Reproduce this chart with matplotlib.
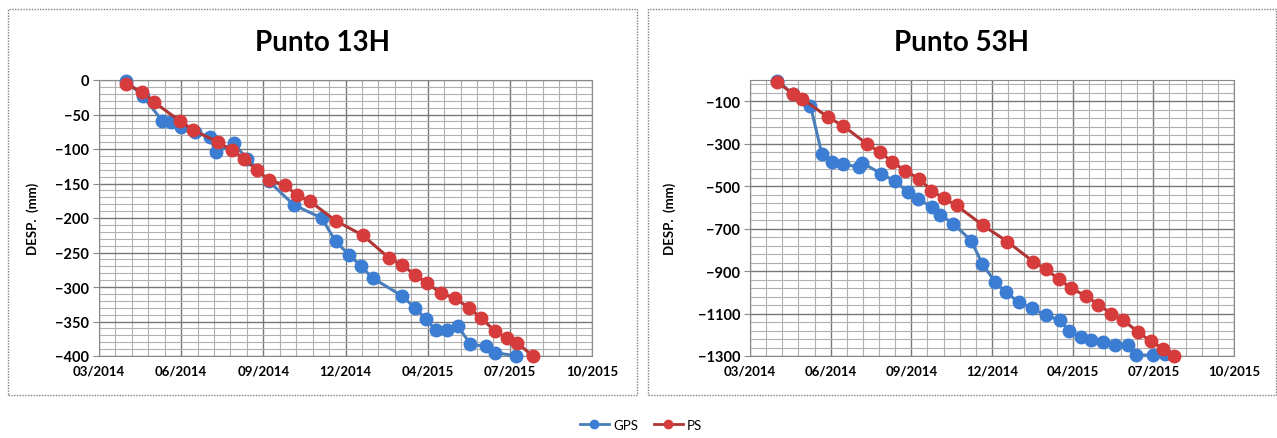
import numpy as np
import pandas as pd
import matplotlib
matplotlib.use("Agg")
import matplotlib.pyplot as plt
import matplotlib.dates as mdates
from matplotlib.patches import Rectangle
from matplotlib.lines import Line2D

# ---------------- data ----------------
origin = "2014-03-01"   # first x tick of the date axis

# Punto 13H  (days since origin, displacement mm)
ps13_days = [33, 52, 67, 98, 115, 145, 162, 177, 192, 207, 226, 241, 257, 288, 321,
             353, 369, 384, 399, 416, 433, 450, 465, 482, 496, 509, 528]
ps13_vals = [-6, -17, -32, -59, -73, -90, -102, -114, -131, -145, -152, -167, -176, -204, -225,
             -258, -268, -282, -294, -309, -316, -330, -345, -364, -374, -381, -400]
gps13_days = [33, 53, 77, 88, 100, 117, 135, 142, 164, 180, 207, 237, 271, 288, 304,
              319, 333, 369, 384, 398, 410, 423, 437, 452, 471, 482, 508]
gps13_vals = [-1, -23, -59, -61, -68, -75, -83, -105, -92, -114, -147, -181, -200, -234, -253,
              -270, -287, -313, -330, -346, -363, -362, -357, -383, -386, -395, -400]

# Punto 53H
ps53_days = [34, 53, 65, 97, 115, 145, 161, 176, 192, 210, 225, 240, 256, 289, 319,
             351, 367, 383, 398, 417, 432, 448, 463, 481, 497, 512, 526]
ps53_vals = [-8, -66, -89, -176, -215, -301, -340, -384, -427, -466, -521, -557, -591, -685, -761,
             -855, -892, -939, -980, -1019, -1058, -1101, -1132, -1187, -1231, -1265, -1300]
gps53_days = [34, 53, 75, 89, 102, 115, 135, 139, 163, 180, 196, 208, 226, 236, 252,
              274, 288, 304, 317, 333, 349, 367, 384, 396, 410, 423, 438, 453, 468, 479, 499, 515]
gps53_vals = [-3, -66, -121, -348, -387, -395, -411, -390, -442, -478, -528, -560, -599, -635, -677,
              -756, -866, -952, -999, -1046, -1074, -1109, -1132, -1184, -1211, -1226, -1234, -1250,
              -1250, -1294, -1297, -1290]

titles = ["Punto 13H", "Punto 53H"]
ylabel = "DESP.  (mm)"
legend_labels = ["GPS", "PS"]

# ---------------- style ----------------
blue = "#3b7dd3"
blue_line = "#4a7ebb"
red = "#d63c3c"
red_line = "#b03535"
W, H = 1277, 439
fig = plt.figure(figsize=(W / 100, H / 100), dpi=100)
plt.rcParams['font.family'] = ['Lato', 'DejaVu Sans']

t0 = pd.Timestamp(origin)
def to_dates(days):
    return t0 + pd.to_timedelta(np.array(days), unit="D")

xmaj = [t0 + pd.Timedelta(days=d) for d in range(0, 601, 100)]
xmin = [t0 + pd.Timedelta(days=d) for d in range(0, 601, 20)]

panels = [
    dict(rect=(99, 81, 592, 357), frame=(8, 10, 637, 396), title=titles[0],
         ps=(ps13_days, ps13_vals), gps=(gps13_days, gps13_vals), pad=12,
         ylim=(-400, 0), ymaj=np.arange(-400, 1, 50), ymin=np.arange(-400, 1, 10)),
    dict(rect=(750, 81, 1234, 357), frame=(648, 10, 1276, 396), title=titles[1],
         ps=(ps53_days, ps53_vals), gps=(gps53_days, gps53_vals), pad=16,
         ylim=(-1300, 0), ymaj=np.arange(-1300, 0, 200), ymin=np.arange(-1300, 1, 40)),
]

for p in panels:
    x0, y0, x1, y1 = p["rect"]
    ax = fig.add_axes([x0 / W, 1 - y1 / H, (x1 - x0) / W, (y1 - y0) / H])
    fx0, fy0, fx1, fy1 = p["frame"]
    fig.patches.append(Rectangle((fx0 / W, 1 - fy1 / H), (fx1 - fx0) / W, (fy1 - fy0) / H,
                                 transform=fig.transFigure, fill=False, ec="#808080",
                                 lw=1.0, ls=(0, (1, 1))))

    ax.set_xlim(xmaj[0], xmaj[-1])
    ax.set_ylim(*p["ylim"])
    ax.set_xticks(xmaj)
    ax.set_xticks(xmin, minor=True)
    ax.set_yticks(p["ymaj"])
    ax.set_yticks(p["ymin"], minor=True)
    ax.xaxis.set_major_formatter(mdates.DateFormatter("%m/%Y"))
    ax.grid(which="minor", color="#b0b0b0", lw=0.8)
    ax.grid(which="major", color="#777777", lw=1.0)
    ax.set_axisbelow(True)
    for s in ax.spines.values():
        s.set_color("#8a8a8a")
    ax.tick_params(axis="both", which="major", length=4, color="#8a8a8a", pad=3)
    ax.tick_params(axis="both", which="minor", length=0)
    ax.tick_params(axis="x", length=0, pad=6)
    for lab in ax.get_xticklabels():
        lab.set_fontweight("bold")
        lab.set_fontsize(9.5)
    for lab in ax.get_yticklabels():
        lab.set_fontweight("bold")
        lab.set_fontsize(10.5)

    gd, gv = p["gps"]
    pd_, pv = p["ps"]
    ax.plot(to_dates(gd), gv, color=blue_line, lw=2.2, marker="o", ms=9,
            mfc=blue, mec=blue, clip_on=False, zorder=3)
    ax.plot(to_dates(pd_), pv, color=red_line, lw=2.2, marker="o", ms=9,
            mfc=red, mec=red, clip_on=False, zorder=4)

    ax.set_ylabel(ylabel, fontsize=9.5, fontweight="bold", labelpad=p["pad"])
    cx = ((fx0 + fx1) / 2) / W
    fig.text(cx, 1 - 43 / H, p["title"], ha="center", va="center",
             fontsize=20, fontweight="bold")

handles = [Line2D([], [], color=blue_line, lw=2, marker="o", ms=6, mfc=blue, mec=blue),
           Line2D([], [], color=red_line, lw=2, marker="o", ms=6, mfc=red, mec=red)]
fig.legend(handles, legend_labels, loc="center", bbox_to_anchor=(641 / W, 1 - 426 / H),
           ncol=2, frameon=False, fontsize=9.5, handlelength=2.2, columnspacing=1.2,
           handletextpad=0.3)

fig.savefig("out.png", dpi=100, facecolor="white")
